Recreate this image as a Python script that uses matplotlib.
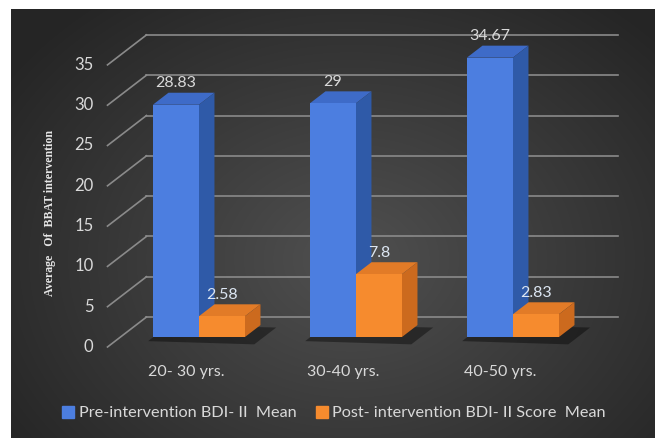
import numpy as np
import matplotlib
matplotlib.use('Agg')
import matplotlib.pyplot as plt
from matplotlib.patches import Polygon
from matplotlib.lines import Line2D

# ---------------- data ----------------
categories = ['20- 30 yrs.', '30-40 yrs.', '40-50 yrs.']
pre_mean = [28.83, 29, 34.67]
post_mean = [2.58, 7.8, 2.83]
pre_labels = ['28.83', '29', '34.67']
post_labels = ['2.58', '7.8', '2.83']
y_ticks = [0, 5, 10, 15, 20, 25, 30, 35]
series_names = ['Pre-intervention BDI- II  Mean',
                'Post- intervention BDI- II Score  Mean']
y_title = 'Average   Of  BBAT intervention'

# ---------------- style ----------------
plt.rcParams['font.family'] = ['Lato', 'DejaVu Sans']
TXT = '#d9d9d9'
GRID = '#8a8a8a'
BLUE_F, BLUE_S, BLUE_T = '#4c7ee0', '#2f5aa8', '#3e6bc8'
ORNG_F, ORNG_S, ORNG_T = '#f68b2e', '#cc6a1e', '#e27b27'

W, H = 661, 438
fig = plt.figure(figsize=(W / 100, H / 100), dpi=100)
fig.patch.set_facecolor('white')

# background gradient panel
bg = fig.add_axes([11 / W, 0, 644 / W, 429 / H])
yy, xx = np.mgrid[0:429, 0:644]
r = np.sqrt(((xx - 340) / 420.0) ** 2 + ((yy - 250) / 330.0) ** 2)
r = np.clip(r, 0, 1)
c0, c1 = np.array([0x50, 0x50, 0x50]) / 255, np.array([0x25, 0x25, 0x25]) / 255
img = c0[None, None, :] * (1 - r[..., None]) + c1[None, None, :] * r[..., None]
bg.imshow(img, aspect='auto', interpolation='bilinear')
bg.set_axis_off()

# main axes: data coordinates (x = category index, y = value)
ax = fig.add_axes([0, 0, 1, 1])
ax.set_facecolor('none')
ax.set_axis_off()
PX_X = 157.0     # pixels per category
PX_Y = 8.06      # pixels per value unit
X0, Y0 = 186.0, 347.0
ax.set_xlim(-X0 / PX_X, (W - X0) / PX_X)
ax.set_ylim((Y0 - H) / PX_Y, Y0 / PX_Y)

# oblique depth projection (full depth)
DX = 39.0 / PX_X
DY = 30.0 / PX_Y
D0, D1 = 0.33, 0.73
BW = 0.293
n = len(categories)
xs = np.arange(n)
left, right = -0.5, n - 0.5

# gridlines: back wall + side wall diagonals
for t in y_ticks:
    ax.plot([left + DX, right + DX], [t + DY, t + DY], color=GRID, lw=1.2, zorder=1)
    ax.plot([left, left + DX], [t, t + DY], color=GRID, lw=1.2, zorder=1)
    ax.text(left - 0.09, t, str(t), ha='right', va='center', color=TXT,
            fontsize=12, zorder=5)

ddx = (D1 - D0) * DX
ddy = (D1 - D0) * DY
yb = D0 * DY


def draw_bar(x, v, cf, cs, ct, z):
    xf = x + D0 * DX
    ax.bar(xf, v, width=BW, bottom=yb, align='edge', color=cf, lw=0, zorder=z + 0.2)
    top = [(xf, yb + v), (xf + BW, yb + v), (xf + BW + ddx, yb + v + ddy),
           (xf + ddx, yb + v + ddy)]
    side = [(xf + BW, yb), (xf + BW + ddx, yb + ddy),
            (xf + BW + ddx, yb + v + ddy), (xf + BW, yb + v)]
    ax.add_patch(Polygon(top, closed=True, fc=ct, ec='none', zorder=z + 0.1))
    ax.add_patch(Polygon(side, closed=True, fc=cs, ec='none', zorder=z + 0.1))


z = 2
for i in range(n):
    # floor shadow of the group
    xl = xs[i] - BW + D0 * DX
    xr = xs[i] + BW + D0 * DX
    sh = [(xl - 0.03, yb - 0.5), (xr + 0.06, yb - 0.9), (xr + ddx + 0.1, yb + ddy - 0.3),
          (xl + ddx, yb + ddy)]
    ax.add_patch(Polygon(sh, closed=True, fc='black', ec='none', alpha=0.4, zorder=1.5))
    draw_bar(xs[i] - BW, pre_mean[i], BLUE_F, BLUE_S, BLUE_T, z)
    z += 1
    draw_bar(xs[i], post_mean[i], ORNG_F, ORNG_S, ORNG_T, z)
    z += 1
    # data labels
    ax.text(xs[i] - BW / 2 + D0 * DX, pre_mean[i] + D1 * DY + 0.3, pre_labels[i],
            ha='center', va='bottom', color=TXT, fontsize=11.5, zorder=20)
    ax.text(xs[i] + BW / 2 + D0 * DX, post_mean[i] + D1 * DY + 0.3, post_labels[i],
            ha='center', va='bottom', color='#dce6f2', fontsize=11.5, zorder=20)
    # category label
    ax.text(xs[i], -3.1, categories[i], ha='center', va='center', color=TXT,
            fontsize=11.5, zorder=20)

# y-axis title
fig.text(50 / W, 1 - 213 / H, y_title, rotation=90, ha='center', va='center',
         color='#e6e6e6', fontsize=8.6, fontweight='bold',
         family=['Liberation Serif', 'DejaVu Serif'])

# legend
handles = [Line2D([], [], ls='none', marker='s', ms=8, mfc=BLUE_F, mec=BLUE_F),
           Line2D([], [], ls='none', marker='s', ms=8, mfc=ORNG_F, mec=ORNG_F)]
leg = fig.legend(handles, series_names, loc='center', ncol=2,
                 bbox_to_anchor=(334 / W, 1 - 413 / H), frameon=False,
                 fontsize=11.7, labelcolor=TXT, handlelength=0.7,
                 handletextpad=0.3, columnspacing=1.2)

fig.savefig('out.png', dpi=100, facecolor='white')
